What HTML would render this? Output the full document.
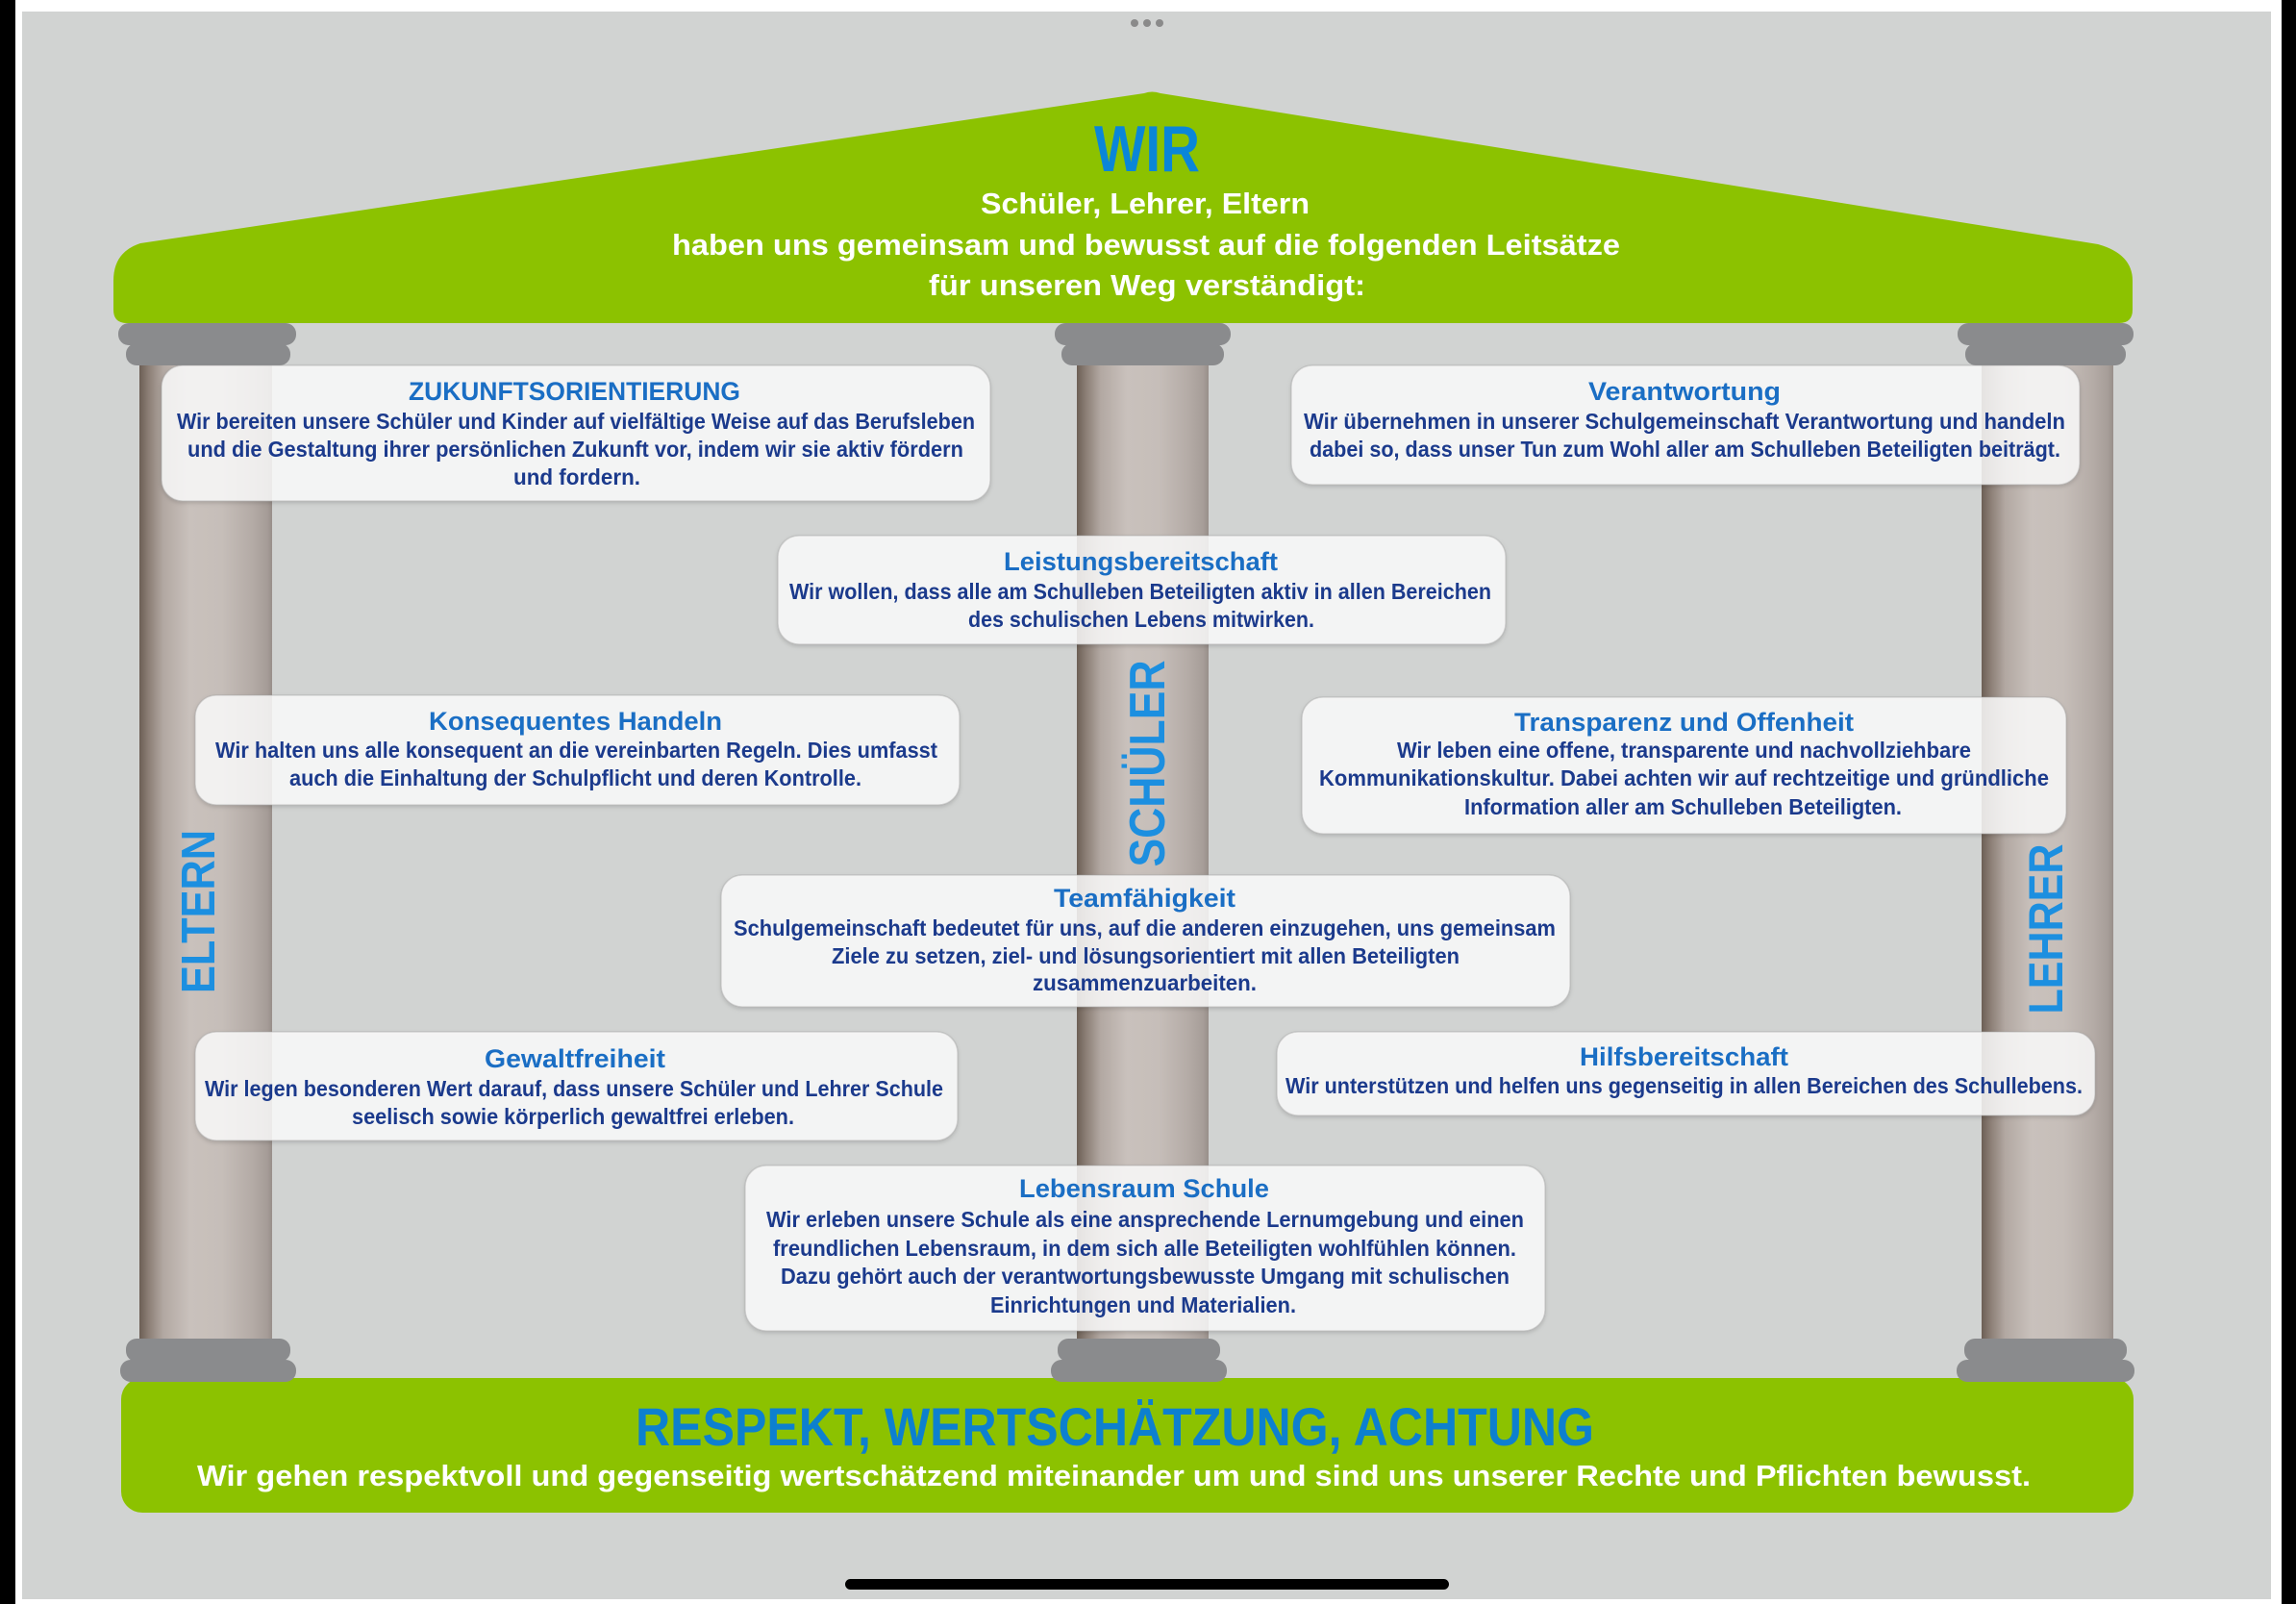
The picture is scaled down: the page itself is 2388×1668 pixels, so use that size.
<!DOCTYPE html>
<html>
<head>
<meta charset="utf-8">
<style>
  html, body { margin: 0; padding: 0; background: #ffffff; }
  svg { display: block; }
  text { font-family: "Liberation Sans", "DejaVu Sans", sans-serif; font-weight: bold; }
  .t { fill: #1a6ec4; font-size: 27px; }
  .b { fill: #1b3a8c; font-size: 23px; }
  .w { fill: #ffffff; }
  .v { fill: #1c8fe0; }
</style>
</head>
<body>
<svg width="2388" height="1668" viewBox="0 0 2388 1668" xmlns="http://www.w3.org/2000/svg">
  <defs>
    <linearGradient id="shaft" x1="0" y1="0" x2="1" y2="0">
      <stop offset="0" stop-color="#6c5f55"/>
      <stop offset="0.07" stop-color="#8c7f76"/>
      <stop offset="0.18" stop-color="#b2a8a2"/>
      <stop offset="0.38" stop-color="#c9c1bc"/>
      <stop offset="0.62" stop-color="#c6beb9"/>
      <stop offset="0.85" stop-color="#b4aba6"/>
      <stop offset="0.96" stop-color="#a69d98"/>
      <stop offset="1" stop-color="#988f8a"/>
    </linearGradient>
    <filter id="sh" x="-5%" y="-10%" width="110%" height="130%">
      <feDropShadow dx="0" dy="2" stdDeviation="2" flood-color="#000" flood-opacity="0.18"/>
    </filter>
  </defs>

  <!-- frame -->
  <rect x="0" y="0" width="2388" height="1668" fill="#ffffff"/>
  <rect x="23" y="12" width="2339" height="1651" fill="#d1d3d2"/>
  <rect x="0" y="0" width="16" height="1668" fill="#000"/>
  <rect x="2373" y="0" width="15" height="1668" fill="#000"/>

  <!-- three dots -->
  <circle cx="1180" cy="24" r="4" fill="#8a8a8a"/>
  <circle cx="1193" cy="24" r="4" fill="#8a8a8a"/>
  <circle cx="1206" cy="24" r="4" fill="#8a8a8a"/>

  <!-- roof -->
  <path d="M132,336 Q118,336 118,322 L118,292 Q118,262 146,253 L1190,97 Q1198,94 1207,97 L2182,254 Q2218,264 2218,292 L2218,322 Q2218,336 2204,336 Z" fill="#8cc200"/>

  <!-- base -->
  <rect x="126" y="1433" width="2093" height="140" rx="22" ry="22" fill="#8cc200"/>

  <!-- shafts -->
  <rect x="145" y="378" width="138" height="1016" fill="url(#shaft)"/>
  <rect x="1120" y="378" width="137" height="1016" fill="url(#shaft)"/>
  <rect x="2061" y="378" width="137" height="1016" fill="url(#shaft)"/>

  <!-- top capitals -->
  <g fill="#8a8b8d">
    <rect x="131" y="357" width="171" height="23" rx="11"/>
    <rect x="123" y="336" width="185" height="23" rx="11"/>
    <rect x="1104" y="357" width="169" height="23" rx="11"/>
    <rect x="1097" y="336" width="183" height="23" rx="11"/>
    <rect x="2044" y="357" width="167" height="23" rx="11"/>
    <rect x="2036" y="336" width="183" height="23" rx="11"/>
  </g>
  <!-- bottom capitals -->
  <g fill="#8a8b8d">
    <rect x="131" y="1392" width="171" height="24" rx="11"/>
    <rect x="125" y="1414" width="183" height="23" rx="11"/>
    <rect x="1100" y="1392" width="169" height="24" rx="11"/>
    <rect x="1093" y="1414" width="183" height="23" rx="11"/>
    <rect x="2043" y="1392" width="169" height="24" rx="11"/>
    <rect x="2035" y="1414" width="185" height="23" rx="11"/>
  </g>

  <!-- vertical labels -->
  <text class="v" x="1211" y="794" font-size="52" text-anchor="middle" textLength="215" lengthAdjust="spacingAndGlyphs" transform="rotate(-90 1211 794)">SCHÜLER</text>
  <text class="v" x="223" y="948" font-size="49" text-anchor="middle" textLength="170" lengthAdjust="spacingAndGlyphs" transform="rotate(-90 223 948)">ELTERN</text>
  <text class="v" x="2145" y="966" font-size="50" text-anchor="middle" textLength="177" lengthAdjust="spacingAndGlyphs" transform="rotate(-90 2145 966)">LEHRER</text>

  <!-- roof text -->
  <text x="1138" y="178" font-size="68" fill="#0a86d8" textLength="110" lengthAdjust="spacingAndGlyphs">WIR</text>
  <text class="w" x="1020" y="222" font-size="31" textLength="342" lengthAdjust="spacingAndGlyphs">Schüler, Lehrer, Eltern</text>
  <text class="w" x="699" y="265" font-size="31" textLength="986" lengthAdjust="spacingAndGlyphs">haben uns gemeinsam und bewusst auf die folgenden Leitsätze</text>
  <text class="w" x="966" y="307" font-size="31" textLength="454" lengthAdjust="spacingAndGlyphs">für unseren Weg verständigt:</text>

  <!-- base text -->
  <text x="661" y="1503" font-size="56" fill="#0d80cf" textLength="997" lengthAdjust="spacingAndGlyphs">RESPEKT, WERTSCHÄTZUNG, ACHTUNG</text>
  <text class="w" x="205" y="1545" font-size="31" textLength="1907" lengthAdjust="spacingAndGlyphs">Wir gehen respektvoll und gegenseitig wertschätzend miteinander um und sind uns unserer Rechte und Pflichten bewusst.</text>

  <!-- boxes -->
  <g fill="#fcfcfc" fill-opacity="0.83" stroke="#9a9a9a" stroke-opacity="0.35" stroke-width="1.5" filter="url(#sh)">
    <rect x="168" y="380" width="862" height="141" rx="22"/>
    <rect x="1343" y="380" width="820" height="124" rx="22"/>
    <rect x="809" y="557" width="757" height="113" rx="22"/>
    <rect x="203" y="723" width="795" height="114" rx="22"/>
    <rect x="1354" y="725" width="795" height="142" rx="22"/>
    <rect x="750" y="910" width="883" height="137" rx="22"/>
    <rect x="203" y="1073" width="793" height="113" rx="22"/>
    <rect x="1328" y="1073" width="851" height="87" rx="22"/>
    <rect x="775" y="1212" width="832" height="172" rx="22"/>
  </g>

  <!-- box 1 -->
  <text class="t" x="425" y="416" textLength="345" lengthAdjust="spacingAndGlyphs">ZUKUNFTSORIENTIERUNG</text>
  <text class="b" x="184" y="446" textLength="830" lengthAdjust="spacingAndGlyphs">Wir bereiten unsere Schüler und Kinder auf vielfältige Weise auf das Berufsleben</text>
  <text class="b" x="195" y="475" textLength="807" lengthAdjust="spacingAndGlyphs">und die Gestaltung ihrer persönlichen Zukunft vor, indem wir sie aktiv fördern</text>
  <text class="b" x="534" y="504" textLength="132" lengthAdjust="spacingAndGlyphs">und fordern.</text>

  <!-- box 2 -->
  <text class="t" x="1652" y="416" textLength="200" lengthAdjust="spacingAndGlyphs">Verantwortung</text>
  <text class="b" x="1356" y="446" textLength="792" lengthAdjust="spacingAndGlyphs">Wir übernehmen in unserer Schulgemeinschaft Verantwortung und handeln</text>
  <text class="b" x="1362" y="475" textLength="781" lengthAdjust="spacingAndGlyphs">dabei so, dass unser Tun zum Wohl aller am Schulleben Beteiligten beiträgt.</text>

  <!-- box 3 -->
  <text class="t" x="1044" y="593" textLength="285" lengthAdjust="spacingAndGlyphs">Leistungsbereitschaft</text>
  <text class="b" x="821" y="623" textLength="730" lengthAdjust="spacingAndGlyphs">Wir wollen, dass alle am Schulleben Beteiligten aktiv in allen Bereichen</text>
  <text class="b" x="1007" y="652" textLength="360" lengthAdjust="spacingAndGlyphs">des schulischen Lebens mitwirken.</text>

  <!-- box 4 -->
  <text class="t" x="446" y="759" textLength="305" lengthAdjust="spacingAndGlyphs">Konsequentes Handeln</text>
  <text class="b" x="224" y="788" textLength="751" lengthAdjust="spacingAndGlyphs">Wir halten uns alle konsequent an die vereinbarten Regeln. Dies umfasst</text>
  <text class="b" x="301" y="817" textLength="595" lengthAdjust="spacingAndGlyphs">auch die Einhaltung der Schulpflicht und deren Kontrolle.</text>

  <!-- box 5 -->
  <text class="t" x="1575" y="760" textLength="353" lengthAdjust="spacingAndGlyphs">Transparenz und Offenheit</text>
  <text class="b" x="1453" y="788" textLength="597" lengthAdjust="spacingAndGlyphs">Wir leben eine offene, transparente und nachvollziehbare</text>
  <text class="b" x="1372" y="817" textLength="759" lengthAdjust="spacingAndGlyphs">Kommunikationskultur. Dabei achten wir auf rechtzeitige und gründliche</text>
  <text class="b" x="1523" y="847" textLength="455" lengthAdjust="spacingAndGlyphs">Information aller am Schulleben Beteiligten.</text>

  <!-- box 6 -->
  <text class="t" x="1096" y="943" textLength="189" lengthAdjust="spacingAndGlyphs">Teamfähigkeit</text>
  <text class="b" x="763" y="973" textLength="855" lengthAdjust="spacingAndGlyphs">Schulgemeinschaft bedeutet für uns, auf die anderen einzugehen, uns gemeinsam</text>
  <text class="b" x="865" y="1002" textLength="653" lengthAdjust="spacingAndGlyphs">Ziele zu setzen, ziel- und lösungsorientiert mit allen Beteiligten</text>
  <text class="b" x="1074" y="1030" textLength="233" lengthAdjust="spacingAndGlyphs">zusammenzuarbeiten.</text>

  <!-- box 7 -->
  <text class="t" x="504" y="1110" textLength="188" lengthAdjust="spacingAndGlyphs">Gewaltfreiheit</text>
  <text class="b" x="213" y="1140" textLength="768" lengthAdjust="spacingAndGlyphs">Wir legen besonderen Wert darauf, dass unsere Schüler und Lehrer Schule</text>
  <text class="b" x="366" y="1169" textLength="460" lengthAdjust="spacingAndGlyphs">seelisch sowie körperlich gewaltfrei erleben.</text>

  <!-- box 8 -->
  <text class="t" x="1643" y="1108" textLength="217" lengthAdjust="spacingAndGlyphs">Hilfsbereitschaft</text>
  <text class="b" x="1337" y="1137" textLength="829" lengthAdjust="spacingAndGlyphs">Wir unterstützen und helfen uns gegenseitig in allen Bereichen des Schullebens.</text>

  <!-- box 9 -->
  <text class="t" x="1060" y="1245" textLength="260" lengthAdjust="spacingAndGlyphs">Lebensraum Schule</text>
  <text class="b" x="797" y="1276" textLength="788" lengthAdjust="spacingAndGlyphs">Wir erleben unsere Schule als eine ansprechende Lernumgebung und einen</text>
  <text class="b" x="804" y="1306" textLength="773" lengthAdjust="spacingAndGlyphs">freundlichen Lebensraum, in dem sich alle Beteiligten wohlfühlen können.</text>
  <text class="b" x="812" y="1335" textLength="758" lengthAdjust="spacingAndGlyphs">Dazu gehört auch der verantwortungsbewusste Umgang mit schulischen</text>
  <text class="b" x="1030" y="1365" textLength="318" lengthAdjust="spacingAndGlyphs">Einrichtungen und Materialien.</text>

  <!-- home indicator -->
  <rect x="879" y="1642" width="628" height="11" rx="5.5" fill="#000"/>
</svg>
</body>
</html>
